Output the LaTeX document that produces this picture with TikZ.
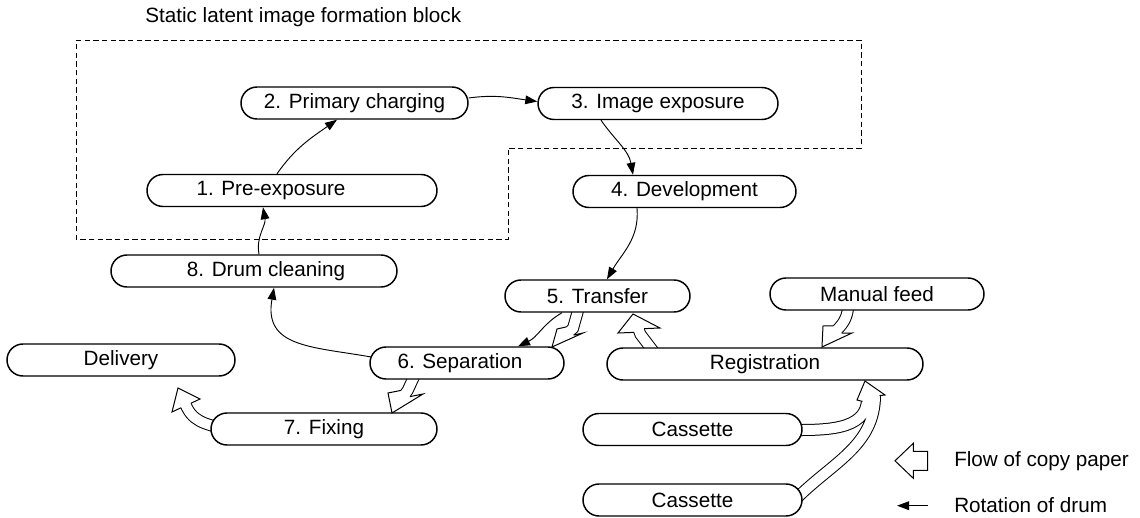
\documentclass[tikz,border=0pt]{standalone}
\usepackage{fontspec}
\setmainfont{Liberation Sans}
\usetikzlibrary{calc,arrows.meta}
% #1 tip, #2 base middle, #3 corner (left of travel), #4 corner (right of travel), #5 half shaft
\newcommand\flowhead[5]{%
  \filldraw[flowline] ($(#2)!#5!90:(#1)$) -- (#3) -- (#1) -- (#4) -- ($(#2)!#5!-90:(#1)$);}
\newcommand\shaftpaths{%
  (581,-300) -- ($(bA)!-3pt!(tA)$) -- ($(bA)!1.5pt!(tA)$)
  (418,-368) -- ($(bB)!-3pt!(tB)$) -- ($(bB)!1.5pt!(tB)$)
  (660,-360) -- ($(bC)!-3pt!(tC)$) -- ($(bC)!1.5pt!(tC)$)
  (849,-300) to[out=-95,in=47] ($(bD)!-2pt!(tD)$) -- ($(bD)!1.5pt!(tD)$)
  (230,-431) to[out=160,in=-63] ($(bE)!-2pt!(tE)$) -- ($(bE)!1.5pt!(tE)$)
  (790,-430) to[out=0,in=-90] (867,-399)
  (797,-498) to[out=45,in=-90] (875,-395)
}
\tikzset{
  pill/.style={draw, fill=white, line width=1.1pt, rounded corners=12pt,
    minimum height=24pt, inner sep=0pt, font=\fontsize{15.5}{18}\selectfont},
  rot/.style={line width=0.7pt, -{Triangle[length=9pt,width=6.5pt]}},
  shaftout/.style={line width=9pt, draw=black},
  shaftin/.style={line width=7.5pt, draw=white},
  flowline/.style={fill=white, draw=black, line width=0.75pt, line join=miter},
  lbl/.style={font=\fontsize{15.5}{18}\selectfont, inner sep=0pt},
  blockline/.style={line width=0.6pt, dash pattern=on 4pt off 2.5pt},
}
\begin{document}
\begin{tikzpicture}[x=0.75pt,y=0.75pt]
\fill[white] (0,0) rectangle (1140,-518);
\useasboundingbox (0,0) rectangle (1140,-518);

% block
\draw[blockline] (76,-40) -- (861,-40) -- (861,-148) -- (508,-148) -- (508,-239) -- (76,-239) -- cycle;
\node[lbl, anchor=west] (title) at (145,-17) {Static latent image formation block};

% flow arrow geometry: tip, base middle, two corners
\coordinate (tA) at (552,-347); \coordinate (bA) at (570,-331);
\coordinate (pA) at (583,-333); \coordinate (qA) at (557,-329);
\coordinate (tB) at (392,-413); \coordinate (bB) at (405.5,-393.5);
\coordinate (pB) at (423,-394); \coordinate (qB) at (388,-393);
\coordinate (tC) at (633,-314); \coordinate (bC) at (639,-330.5);
\coordinate (pC) at (618,-333); \coordinate (qC) at (660,-328);
\coordinate (tD) at (822,-347); \coordinate (bD) at (837.5,-329.5);
\coordinate (pD) at (852,-333); \coordinate (qD) at (823,-326);
\coordinate (tE) at (178,-388); \coordinate (bE) at (186,-405.5);
\coordinate (pE) at (172,-412); \coordinate (qE) at (200,-399);
\coordinate (tF) at (865,-381); \coordinate (bF) at (871,-398.5);
\coordinate (pF) at (857,-400); \coordinate (qF) at (885,-395);

\draw[shaftout] \shaftpaths;
\draw[shaftin] \shaftpaths;

% nodes
\node[pill, minimum width=170.25pt] (n2) at (354.5,-103) {2. Primary charging};
\node[pill, minimum width=180pt] (n3) at (658,-103.5) {3. Image exposure};
\node[pill, minimum width=217.5pt] (n1) at (292,-190.5) {\hspace*{-31.5pt}1. Pre-exposure};
\node[pill, minimum width=167.25pt] (n4) at (684.5,-191.5) {4. Development};
\node[pill, minimum width=214.5pt] (n8) at (254,-271) {\hspace*{18pt}8. Drum cleaning};
\node[pill, minimum width=138.75pt] (n5) at (597.5,-296) {5. Transfer};
\node[pill, minimum width=160.5pt] (nm) at (877,-294) {Manual feed};
\node[pill, minimum width=237pt] (nr) at (765,-364) {Registration};
\node[pill, minimum width=145.5pt] (n6) at (467,-363) {\hspace*{-10.5pt}6. Separation};
\node[pill, minimum width=169.5pt] (n7) at (324,-429) {7. Fixing};
\node[pill, minimum width=171pt] (nd) at (121,-360) {Delivery};
\node[pill, minimum width=164.25pt] (nc1) at (692.5,-429.5) {Cassette};
\node[pill, minimum width=164.25pt] (nc2) at (692.5,-500) {Cassette};

% flow heads
\flowhead{tA}{bA}{pA}{qA}{4.1pt}
\flowhead{tB}{bB}{pB}{qB}{4.1pt}
\flowhead{tC}{bC}{pC}{qC}{4.1pt}
\flowhead{tD}{bD}{pD}{qD}{4.1pt}
\flowhead{tE}{bE}{pE}{qE}{4.1pt}
\flowhead{tF}{bF}{pF}{qF}{6.75pt}

% drum rotation
\draw[rot] ($(n1.north)+(-15,0)$) to[out=55,in=-145] ($(n2.south)+(-17.5,0)$);
\draw[rot] ($(n2.east)+(0,5)$) to[out=8,in=172] ($(n3.west)+(0,2)$);
\draw[rot] ($(n3.south)+(-57,0)$) to[out=-55,in=100] ($(n4.north)+(-51.5,0)$);
\draw[rot] ($(n4.south)+(-47.5,0)$) to[out=-85,in=60] ($(n5.north)+(9.5,0)$);
\draw[rot] ($(n5.south)+(-35.5,0)$) to[out=-150,in=25] ($(n6.north)+(51,0)$);
\draw[rot] ($(n6.west)+(2,6)$) to[out=170,in=-100,looseness=1.3] ($(n8.south)+(20,0)$);
\draw[rot] ($(n8.north)+(5,0)$) to[out=100,in=-80] ($(n1.south)+(-29,0)$);

% legend
\filldraw[flowline] (895,-460.8) -- (913.3,-443.3) -- (913.3,-451.3) -- (927.7,-451.3)
  -- (927.7,-470.3) -- (913.3,-470.3) -- (913.3,-478.3) -- cycle;
\node[lbl, anchor=west] (lgflow) at (954,-461) {Flow of copy paper};
\coordinate (la1) at (928,-505.7);
\coordinate (la2) at (897,-505.7);
\draw[rot] (la1) -- (la2);
\node[lbl, anchor=west] (lgrot) at (954,-505.5) {Rotation of drum};
\end{tikzpicture}
\end{document}
